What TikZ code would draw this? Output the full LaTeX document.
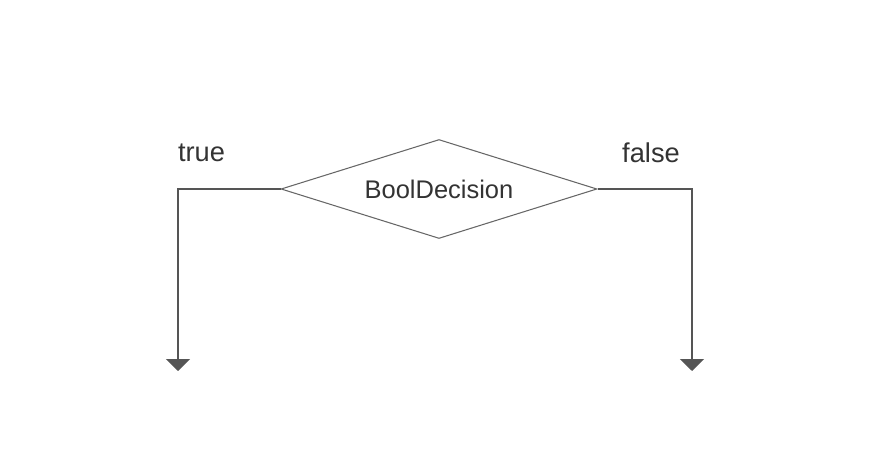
\documentclass[tikz,border=0pt]{standalone}
\usepackage{fontspec}
\setmainfont{Liberation Sans}
\usepackage{tikz}
\usetikzlibrary{shapes.geometric, arrows.meta, positioning, calc}
\definecolor{linegray}{HTML}{555555}
\definecolor{textgray}{HTML}{333333}
\tikzstyle{decision} = [diamond, aspect=3.19, minimum width=6.32cm, minimum height=1.98cm, inner sep=0pt, draw=linegray!90, line width=0.6pt, text=textgray, font=\fontsize{14.5}{16}\selectfont]
\tikzstyle{branch} = [draw=linegray, line width=0.85pt, -{Triangle[width=0.48cm,length=0.24cm]}, color=linegray]
\tikzstyle{label} = [text=textgray, font=\fontsize{15.5}{17}\selectfont]

\begin{document}
\begin{tikzpicture}[x=0.02cm, y=-0.02cm]
    \useasboundingbox (0,0) rectangle (876,470);
    \node (booldecision) [decision] at (439,189) {BoolDecision};
    \coordinate (trueend) at (178,371);
    \coordinate (falseend) at (692,371);
    \node (truelabel) [label] at (201.5,153) {true};
    \node (falselabel) [label] at (651,153) {false};

    \draw [branch] (booldecision.west) -| (trueend);
    \draw [branch] (booldecision.east) -| (falseend);
  \end{tikzpicture}
\end{document}
